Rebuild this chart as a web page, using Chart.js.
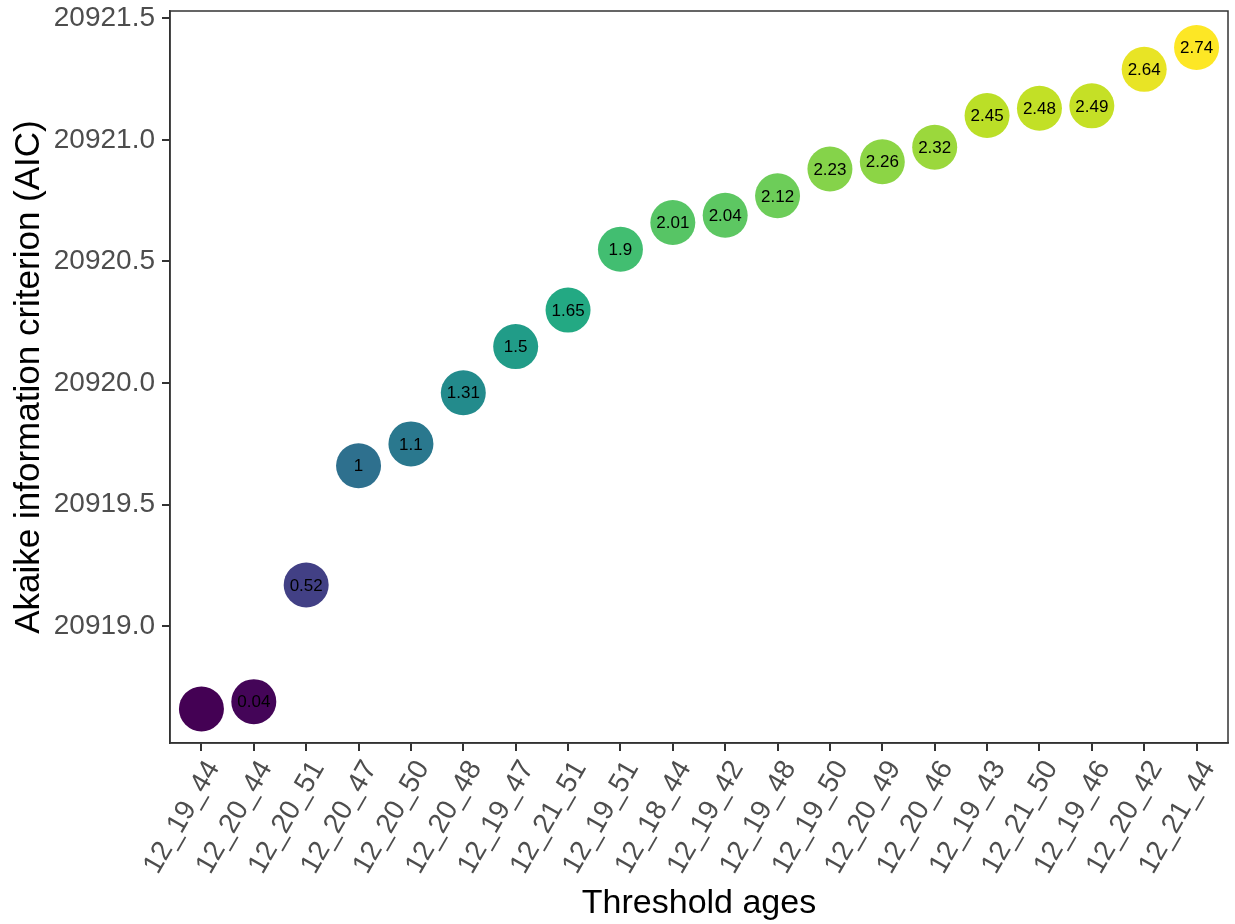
<!DOCTYPE html>
<html>
<head>
<meta charset="utf-8">
<script src="https://cdn.jsdelivr.net/npm/chart.js@4"></script>
<style>
  body { margin: 0; background: #fff; }
  canvas { display: block; }
</style>
</head>
<body>
<canvas id="chart" width="1235" height="924"></canvas>
<script>
// threshold age combinations, ordered by AIC
const thresholds = ['12_19_44', '12_20_44', '12_20_51', '12_20_47', '12_20_50', '12_20_48', '12_19_47',
    '12_21_51', '12_19_51', '12_18_44', '12_19_42', '12_19_48', '12_19_50', '12_20_49', '12_20_46',
    '12_19_43', '12_21_50', '12_19_46', '12_20_42', '12_21_44'];
const aicValues = [20918.66, 20918.69, 20919.17, 20919.66, 20919.75, 20919.96, 20920.15,
    20920.30, 20920.55, 20920.66, 20920.69, 20920.77, 20920.88, 20920.91, 20920.97,
    20921.10, 20921.13, 20921.14, 20921.29, 20921.38];
const deltaLabels = ['', '0.04', '0.52', '1', '1.1', '1.31', '1.5', '1.65', '1.9', '2.01', '2.04',
    '2.12', '2.23', '2.26', '2.32', '2.45', '2.48', '2.49', '2.64', '2.74'];
const yTicks = [20919.0, 20919.5, 20920.0, 20920.5, 20921.0, 20921.5];

// viridis colour scale
const viridis = ['#440154', '#482475', '#414487', '#355f8d', '#2a788e', '#21918c',
    '#22a884', '#44bf70', '#7ad151', '#bddf26', '#fde725'];

const hexToRgb = h => [1, 3, 5].map(i => parseInt(h.substr(i, 2), 16));

const viridisColor = (t) => {
    t = Math.min(1, Math.max(0, t));
    const pos = t * (viridis.length - 1);
    const i = Math.min(Math.floor(pos), viridis.length - 2);
    const f = pos - i;
    const a = hexToRgb(viridis[i]);
    const b = hexToRgb(viridis[i + 1]);
    const c = a.map((v, k) => Math.round(v + (b[k] - v) * f));
    return `rgb(${c[0]}, ${c[1]}, ${c[2]})`;
};

const minAic = Math.min(...aicValues);
const maxAic = Math.max(...aicValues);
const pointColors = aicValues.map(v => viridisColor((v - minAic) / (maxAic - minAic)));

const font = 'Liberation Sans, Arial, sans-serif';

// draw the delta AIC text on each point and the panel border
const pointLabels = {
    id: 'pointLabels',
    afterDatasetsDraw(chart) {
        const ctx = chart.ctx;
        const meta = chart.getDatasetMeta(0);
        ctx.save();
        ctx.font = `17px ${font}`;
        ctx.fillStyle = '#000';
        ctx.textAlign = 'center';
        ctx.textBaseline = 'middle';
        meta.data.forEach((pt, i) => {
            if (deltaLabels[i]) ctx.fillText(deltaLabels[i], pt.x, pt.y + 1);
        });
        const a = chart.chartArea;
        ctx.strokeStyle = '#333333';
        ctx.lineWidth = 1.5;
        ctx.strokeRect(a.left, a.top, a.right - a.left, a.bottom - a.top);
        ctx.restore();
    }
};

new Chart(document.getElementById('chart'), {
    type: 'scatter',
    data: {
        datasets: [{
            data: aicValues.map((v, i) => ({ x: i, y: v })),
            backgroundColor: pointColors,
            borderWidth: 0,
            pointRadius: 22.5,
            pointHoverRadius: 22.5
        }]
    },
    options: {
        responsive: false,
        animation: false,
        layout: { autoPadding: false, padding: { top: 11, right: 7, left: 0, bottom: 0 } },
        plugins: { legend: { display: false }, tooltip: { enabled: false } },
        scales: {
            x: {
                type: 'linear',
                min: -0.6,
                max: thresholds.length - 0.4,
                afterBuildTicks: axis => { axis.ticks = thresholds.map((_, i) => ({ value: i })); },
                afterFit: axis => {
                    axis.height = 181;
                    axis.paddingLeft = 0;
                    axis.paddingRight = 0;
                },
                grid: { drawOnChartArea: false, drawTicks: true, tickLength: 8, color: '#333333', lineWidth: 2 },
                border: { display: true, color: '#333333', width: 1.5 },
                ticks: {
                    autoSkip: false,
                    maxRotation: 60,
                    minRotation: 60,
                    padding: 4,
                    labelOffset: 12,
                    color: '#4d4d4d',
                    font: { family: font, size: 28 },
                    callback: v => thresholds[v]
                },
                title: {
                    display: true,
                    text: 'Threshold ages',
                    color: '#000',
                    font: { family: font, size: 34 },
                    padding: { top: 0, bottom: 0 }
                }
            },
            y: {
                min: 20918.52,
                max: 20921.53,
                afterBuildTicks: axis => { axis.ticks = yTicks.map(v => ({ value: v })); },
                afterFit: axis => {
                    axis.width = 170;
                    axis.paddingTop = 0;
                    axis.paddingBottom = 0;
                },
                grid: { drawOnChartArea: false, drawTicks: true, tickLength: 8, color: '#333333', lineWidth: 2 },
                border: { display: true, color: '#333333', width: 1.5 },
                ticks: {
                    padding: 7,
                    color: '#4d4d4d',
                    font: { family: font, size: 28 },
                    callback: v => v.toFixed(1)
                },
                title: {
                    display: true,
                    text: 'Akaike information criterion (AIC)',
                    color: '#000',
                    font: { family: font, size: 35 },
                    padding: { top: 8, bottom: 0 }
                }
            }
        }
    },
    plugins: [pointLabels]
});
</script>
</body>
</html>
